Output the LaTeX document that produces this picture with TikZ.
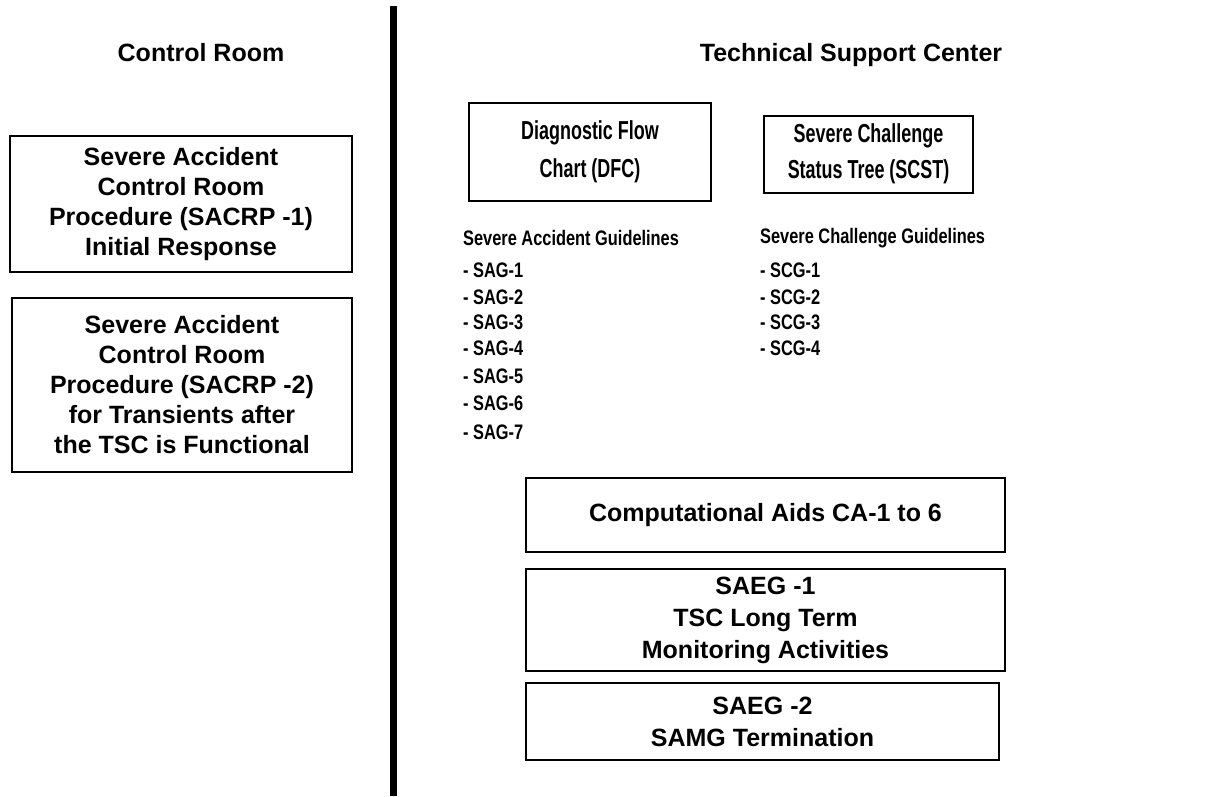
\documentclass[tikz,border=0pt]{standalone}
\usepackage{fontspec}
\setmainfont{Liberation Sans}
\newfontfamily\tallfont{Liberation Sans}[FakeStretch=0.69]
\newfontfamily\listfont{Liberation Sans}[FakeStretch=0.78]
\usetikzlibrary{positioning}
\tikzset{
    bigtext/.style={font=\fontsize{25}{30}\selectfont\bfseries},
    talltext/.style={font=\tallfont\fontsize{26}{38}\selectfont\bfseries},
    listtext/.style={font=\listfont\fontsize{21}{27}\selectfont\bfseries, anchor=west, inner sep=0pt},
    procbox/.style={draw, line width=2pt, align=center, inner sep=0pt},
}
\begin{document}
\begin{tikzpicture}[x=1pt, y=-1pt]
    \useasboundingbox (0,0) rectangle (1217,796);
    % divider between the two rooms
    \coordinate (top) at (393,6);
    \coordinate (bot) at (393,796);
    \draw[line width=7pt] (top) -- (bot);
    \node[bigtext] (cr) at (201,53) {Control Room};
    \node[bigtext] (tsc) at (851,55) {Technical Support Center};
    % control room procedures
    \node[procbox, bigtext, minimum width=342pt, minimum height=136pt] (sacrp1) at (181,204)
        {Severe Accident\\Control Room\\Procedure (SACRP -1)\\Initial Response};
    \node[procbox, bigtext, minimum width=340pt, minimum height=174pt] (sacrp2) at (182,385)
        {Severe Accident\\Control Room\\Procedure (SACRP -2)\\for Transients after\\the TSC is Functional};
    % TSC
    \node[procbox, talltext, minimum width=242pt, minimum height=98pt] (dfc) at (590,152)
        {Diagnostic Flow\\Chart (DFC)};
    \node[procbox, talltext, font=\tallfont\fontsize{26}{36}\selectfont\bfseries, minimum width=209pt, minimum height=77pt] (scst) at (868.5,154)
        {Severe Challenge\\Status Tree (SCST)};
    \node[listtext] (sag) at (463,238) {Severe Accident Guidelines};
    \foreach \i/\y in {1/270,2/297,3/322,4/348,5/376,6/403,7/432}{
    \node[listtext] (sag\i) at (463,\y) {- SAG-\i};}
    \node[listtext] (scg) at (760,238) {Severe Challenge Guidelines};
    \foreach \i/\y in {1/270,2/297,3/322,4/348}{
    \node[listtext] (scg\i) at (760,\y) {- SCG-\i};}
    \node[procbox, bigtext, minimum width=479pt, minimum height=74pt] (ca) at (765.5,515)
        {Computational Aids CA-1 to 6};
    \node[procbox, bigtext, font=\fontsize{25}{32}\selectfont\bfseries, minimum width=479pt, minimum height=102pt] (saeg1) at (765.5,620)
        {SAEG -1\\TSC Long Term\\Monitoring Activities};
    \node[procbox, bigtext, font=\fontsize{25}{32}\selectfont\bfseries, minimum width=473pt, minimum height=77pt] (saeg2) at (762.5,721.5)
        {SAEG -2\\SAMG Termination};
\end{tikzpicture}
\end{document}
